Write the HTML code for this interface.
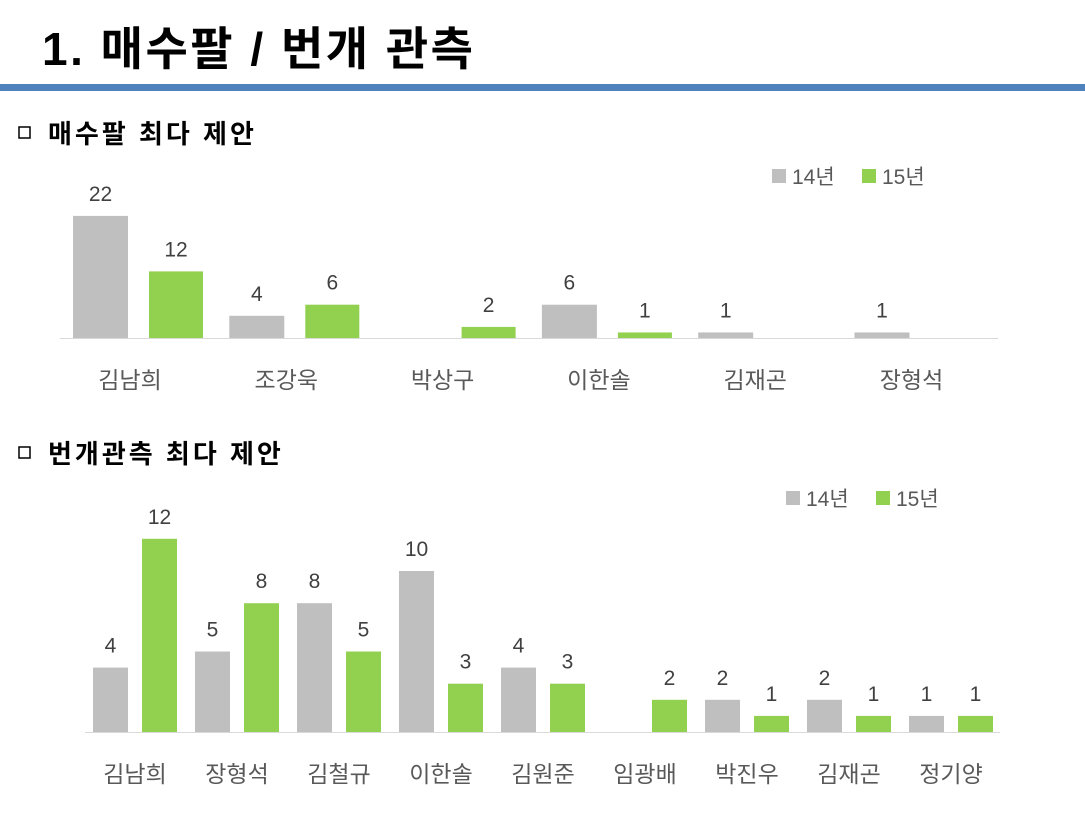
<!DOCTYPE html>
<html><head><meta charset="utf-8"><style>
body{margin:0;background:#fff;}
svg{display:block;font-family:"Liberation Sans","Noto Sans CJK KR",sans-serif;}
</style></head><body>
<svg width="1085" height="816" viewBox="0 0 1085 816">
<text x="42" y="65" font-size="46" font-weight="bold" fill="#000" letter-spacing="2.5">1. 매수팔 / 번개 관측</text>
<rect x="0" y="84" width="1085" height="7" fill="#4f81bd"/>
<rect x="19" y="127" width="11" height="11" fill="none" stroke="#000" stroke-width="1.5"/>
<text x="48" y="143" font-size="26" font-weight="bold" letter-spacing="3">매수팔 최다 제안</text>
<rect x="19" y="447" width="11" height="11" fill="none" stroke="#000" stroke-width="1.5"/>
<text x="48" y="463" font-size="26" font-weight="bold" letter-spacing="3">번개관측 최다 제안</text>

<g font-size="21" fill="#595959">
<rect x="772" y="169" width="14" height="14" fill="#bfbfbf"/><text x="792" y="184">14년</text>
<rect x="862" y="169" width="14" height="14" fill="#92d050"/><text x="882" y="184">15년</text>
<rect x="786" y="491" width="14" height="14" fill="#bfbfbf"/><text x="806" y="506">14년</text>
<rect x="876" y="491" width="14" height="14" fill="#92d050"/><text x="896" y="506">15년</text>
</g>

<line x1="60" y1="338.5" x2="998" y2="338.5" stroke="#d9d9d9"/>
<g id="c1"></g>
<line x1="85" y1="732.5" x2="1000" y2="732.5" stroke="#d9d9d9"/>
<g id="c2"></g>
</svg>
<script>
var ns="http://www.w3.org/2000/svg";
function el(p,t,a,txt){var e=document.createElementNS(ns,t);for(var k in a)e.setAttribute(k,a[k]);if(txt!=null)e.textContent=txt;p.appendChild(e);}
var c1=document.getElementById("c1");
var n1=["김남희","조강욱","박상구","이한솔","김재곤","장형석"],a1=[22,4,0,6,1,1],b1=[12,6,2,1,0,0];
for(var i=0;i<6;i++){var gx=73+156.3*i,s=5.55;
 if(a1[i]){el(c1,"rect",{x:gx,y:338-a1[i]*s,width:55,height:a1[i]*s,fill:"#bfbfbf"});el(c1,"text",{x:gx+27.5,y:338-a1[i]*s-15,"font-size":21,fill:"#404040","text-anchor":"middle"},a1[i]);}
 if(b1[i]){el(c1,"rect",{x:gx+76,y:338-b1[i]*s,width:54,height:b1[i]*s,fill:"#92d050"});el(c1,"text",{x:gx+103,y:338-b1[i]*s-15,"font-size":21,fill:"#404040","text-anchor":"middle"},b1[i]);}
 el(c1,"text",{x:gx+57,y:388,"font-size":23,fill:"#595959","text-anchor":"middle"},n1[i]);}
var c2=document.getElementById("c2");
var n2=["김남희","장형석","김철규","이한솔","김원준","임광배","박진우","김재곤","정기양"],a2=[4,5,8,10,4,0,2,2,1],b2=[12,8,5,3,3,2,1,1,1];
for(var i=0;i<9;i++){var gx=93+102*i,s=16.1;
 if(a2[i]){el(c2,"rect",{x:gx,y:732-a2[i]*s,width:35,height:a2[i]*s,fill:"#bfbfbf"});el(c2,"text",{x:gx+17.5,y:732-a2[i]*s-15,"font-size":21,fill:"#404040","text-anchor":"middle"},a2[i]);}
 if(b2[i]){el(c2,"rect",{x:gx+49,y:732-b2[i]*s,width:35,height:b2[i]*s,fill:"#92d050"});el(c2,"text",{x:gx+66.5,y:732-b2[i]*s-15,"font-size":21,fill:"#404040","text-anchor":"middle"},b2[i]);}
 el(c2,"text",{x:gx+42,y:782,"font-size":23,fill:"#595959","text-anchor":"middle"},n2[i]);}
</script>
</body></html>
